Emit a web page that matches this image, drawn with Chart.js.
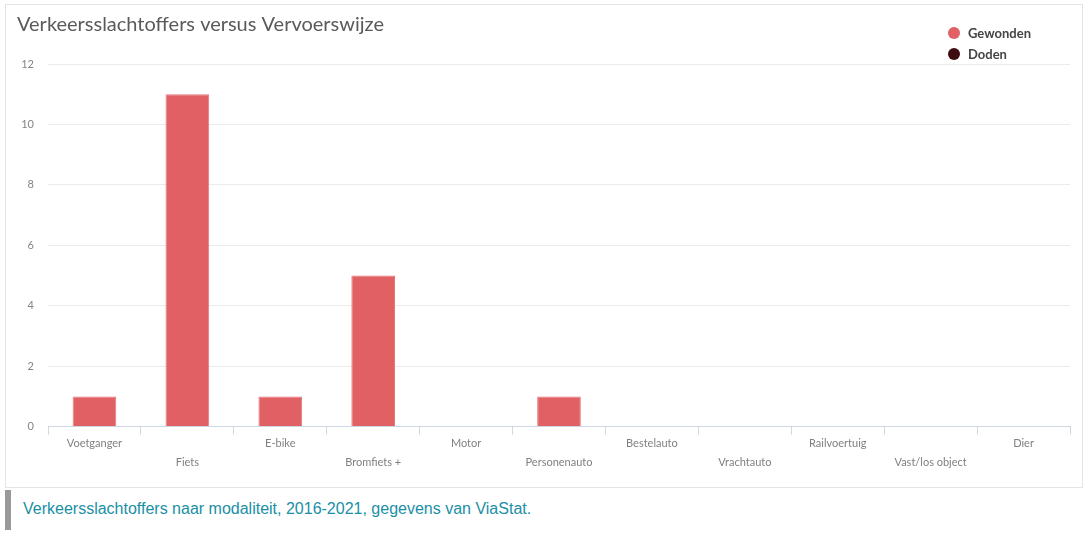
<!DOCTYPE html>
<html>
<head>
<meta charset="utf-8">
<script src="https://cdn.jsdelivr.net/npm/chart.js@4.4.1/dist/chart.umd.min.js"></script>
<style>
    body { margin: 0; background: #fff; width: 1087px; height: 540px; overflow: hidden; }
    .box { position: absolute; left: 5px; top: 4px; width: 1076px; height: 482px; border: 1px solid #e3e3e3; }
    .box canvas { position: absolute; left: 0; top: 0; }
    #legend { position: absolute; left: 942px; top: 18px; font-family: Lato, sans-serif; font-weight: bold; font-size: 13px; color: #444; }
    #legend div { height: 21px; line-height: 21px; }
    #legend span.dot { display: inline-block; width: 12px; height: 12px; border-radius: 50%; vertical-align: -1px; margin-right: 8px; }
    .caption { position: absolute; left: 5px; top: 490px; height: 32px; border-left: 6px solid #999; padding-left: 12px; padding-top: 8px; font-family: "Liberation Sans", Arial, sans-serif; font-size: 16px; line-height: 22px; color: #1a8fa5; }
</style>
</head>
<body>
<div class="box">
    <canvas id="chart" width="1076" height="482"></canvas>
    <div id="legend"></div>
</div>
<div class="caption">Verkeersslachtoffers naar modaliteit, 2016-2021, gegevens van ViaStat.</div>
<script>
const categories = ['Voetganger', 'Fiets', 'E-bike', 'Bromfiets +', 'Motor', 'Personenauto', 'Bestelauto', 'Vrachtauto', 'Railvoertuig', 'Vast/los object', 'Dier'];
const gewonden = [1, 11, 1, 5, 0, 1, 0, 0, 0, 0, 0];
const doden = [0, 0, 0, 0, 0, 0, 0, 0, 0, 0, 0];

document.addEventListener("DOMContentLoaded", function() {
    var ctx = document.getElementById('chart').getContext('2d');
    var chart = new Chart(ctx, {
        type: 'bar',
        data: {
            labels: categories,
            datasets: [{
                label: 'Gewonden',
                data: gewonden,
                backgroundColor: '#e06064',
                borderColor: '#e8777a',
                borderWidth: 1,
                categoryPercentage: 0.47,
                barPercentage: 1
            }, {
                label: 'Doden',
                data: doden,
                backgroundColor: '#3d0c10',
                categoryPercentage: 0.47,
                barPercentage: 1
            }]
        },
        options: {
            responsive: false,
            animation: false,
            layout: { padding: { left: 11, right: 12, bottom: 15 } },
            plugins: {
                legend: { display: false },
                tooltip: { enabled: false },
                title: {
                    display: true,
                    text: 'Verkeersslachtoffers versus Vervoerswijze',
                    align: 'start',
                    color: '#5a5a5a',
                    font: { family: 'Lato', size: 20, weight: 'normal' },
                    padding: { top: 8, bottom: 27 }
                }
            },
            scales: {
                x: {
                    stacked: true,
                    afterFit: function(scale) {
                        scale.paddingLeft = 0;
                        scale.paddingRight = 0;
                    },
                    grid: { offset: true, drawOnChartArea: false, tickLength: 8, color: '#cdd8e5' },
                    border: { color: '#cdd8e5' },
                    ticks: {
                        autoSkip: false,
                        maxRotation: 0,
                        padding: 0,
                        color: '#808080',
                        font: { family: 'Lato', size: 11, lineHeight: 1.7 },
                        callback: function(value, i) {
                            var name = categories[i];
                            return i % 2 ? ['', name] : name;
                        }
                    }
                },
                y: {
                    stacked: true,
                    min: 0,
                    max: 12,
                    afterFit: function(scale) {
                        scale.width = 31;
                    },
                    ticks: { stepSize: 2, padding: 14, color: '#858585', font: { family: 'Lato', size: 11 } },
                    grid: { color: '#ebebeb', drawTicks: false },
                    border: { display: false }
                }
            }
        }
    });

    var legend = document.getElementById('legend');
    chart.data.datasets.forEach(function(ds) {
        var row = document.createElement('div');
        row.innerHTML = '<span class="dot" style="background:' + ds.backgroundColor + '"></span>' + ds.label;
        legend.appendChild(row);
    });
});
</script>
</body>
</html>
